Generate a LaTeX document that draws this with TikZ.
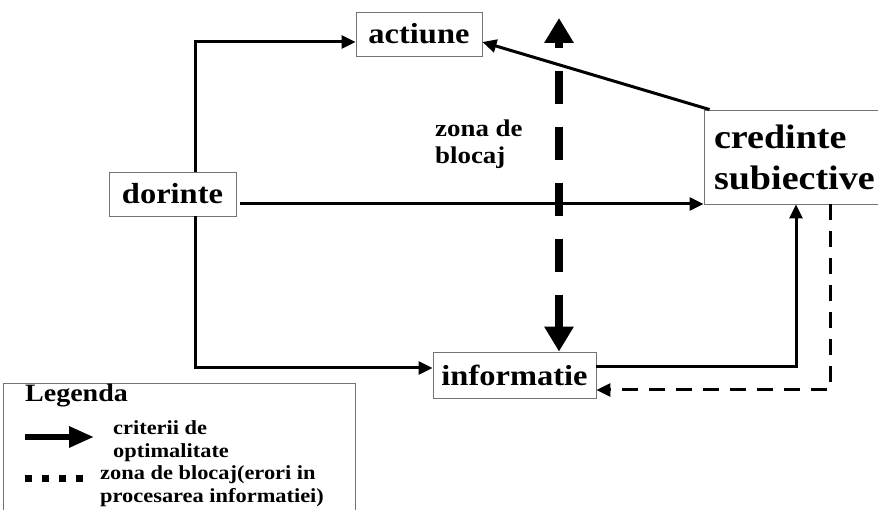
\documentclass[tikz,border=0pt]{standalone}
\usepackage{fontspec}
\setmainfont[FakeStretch=1.12]{Liberation Serif}
\usetikzlibrary{arrows.meta, positioning}
\tikzset{%
	box/.style={
		draw=black!55,
		line width=0.9pt,
		inner sep=0pt,
		font=\bfseries\fontsize{29}{31}\selectfont
	},
	flow/.style={
		line width=3pt,
		-{Triangle[length=14pt,width=13pt]}
	},
	blockflow/.style={
		line width=3pt,
		dash pattern=on 16pt off 11pt,
		-{Triangle[length=14pt,width=13pt]}
	},
	blockarrow/.style={
		line width=8pt,
		dash pattern=on 33pt off 23pt,
		{Triangle[length=25pt,width=28pt]}-{Triangle[length=25pt,width=28pt]}
	},
	note/.style={
		inner sep=0pt,
		align=left,
		font=\bfseries\fontsize{20}{22.5}\selectfont
	},
}
\begin{document}
\begin{tikzpicture}[x=1pt,y=-1pt]
			\useasboundingbox (0,0) rectangle (878,510);
			
			% Draw the boxes
			\node[box, minimum width=126pt, minimum height=44pt] (actiune) at (419,34) {actiune};
			\node[box, minimum width=127pt, minimum height=44pt] (dorinte) at (172.5,194) {dorinte};
			\node[box, minimum width=163pt, minimum height=46pt] (informatie) at (514.5,375) {informatie};
			\node[box, font=\bfseries\fontsize{34}{41}\selectfont, minimum width=184pt, minimum height=94pt,
				text width=164pt, align=left] (credinte) at (796,157) {credinte\\subiective};
			
			% Draw the blocking zone
			\node[note, font=\bfseries\fontsize{24}{27}\selectfont, anchor=west] (zona) at (435,144) {zona de\\blocaj};
			\coordinate (blocktop) at (559,18);
			\draw[blockarrow] ([xshift=44.5pt]informatie.north) -- (blocktop);
			
			% Draw arrows from dorinte
			\draw[flow] ([xshift=22.5pt]dorinte.north) |- ([yshift=-8pt]actiune.west);
			\draw[flow, shorten <=4pt] ([yshift=-10pt]dorinte.east) -- ([yshift=-10pt]dorinte.east -| credinte.west);
			\draw[flow] ([xshift=22.5pt]dorinte.south) |- ([yshift=7pt]informatie.west);
			
			% Draw arrows from informatie and credinte
			\draw[flow] ([yshift=8pt]informatie.east) -| (credinte.south);
			\draw[flow] ([xshift=6pt]credinte.north west) -- ([yshift=-8pt]actiune.east);
			\draw[blockflow] ([xshift=34pt]credinte.south) |- ([yshift=-15pt]informatie.east);
			
			% Draw the legend
			\draw[draw=black!55, line width=0.9pt] (3,383) rectangle (355,530);
			\node[note, font=\bfseries\fontsize{25}{27}\selectfont, anchor=base west] (legenda) at (25,402) {Legenda};
			\coordinate (legA) at (25,437);
			\coordinate (legB) at (94,437);
			\draw[line width=6pt, -{Triangle[length=25pt,width=20pt]}] (legA) -- (legB);
			\node[note, anchor=west] (legopt) at (113,441) {criterii de\\optimalitate};
			\coordinate (legC) at (25,478.5);
			\coordinate (legD) at (84,478.5);
			\draw[line width=7pt, dash pattern=on 7pt off 10pt] (legC) -- (legD);
			\node[note, anchor=west] (legblock) at (100,486) {zona de blocaj(erori in\\procesarea informatiei)};
			
		\end{tikzpicture}
\end{document}
